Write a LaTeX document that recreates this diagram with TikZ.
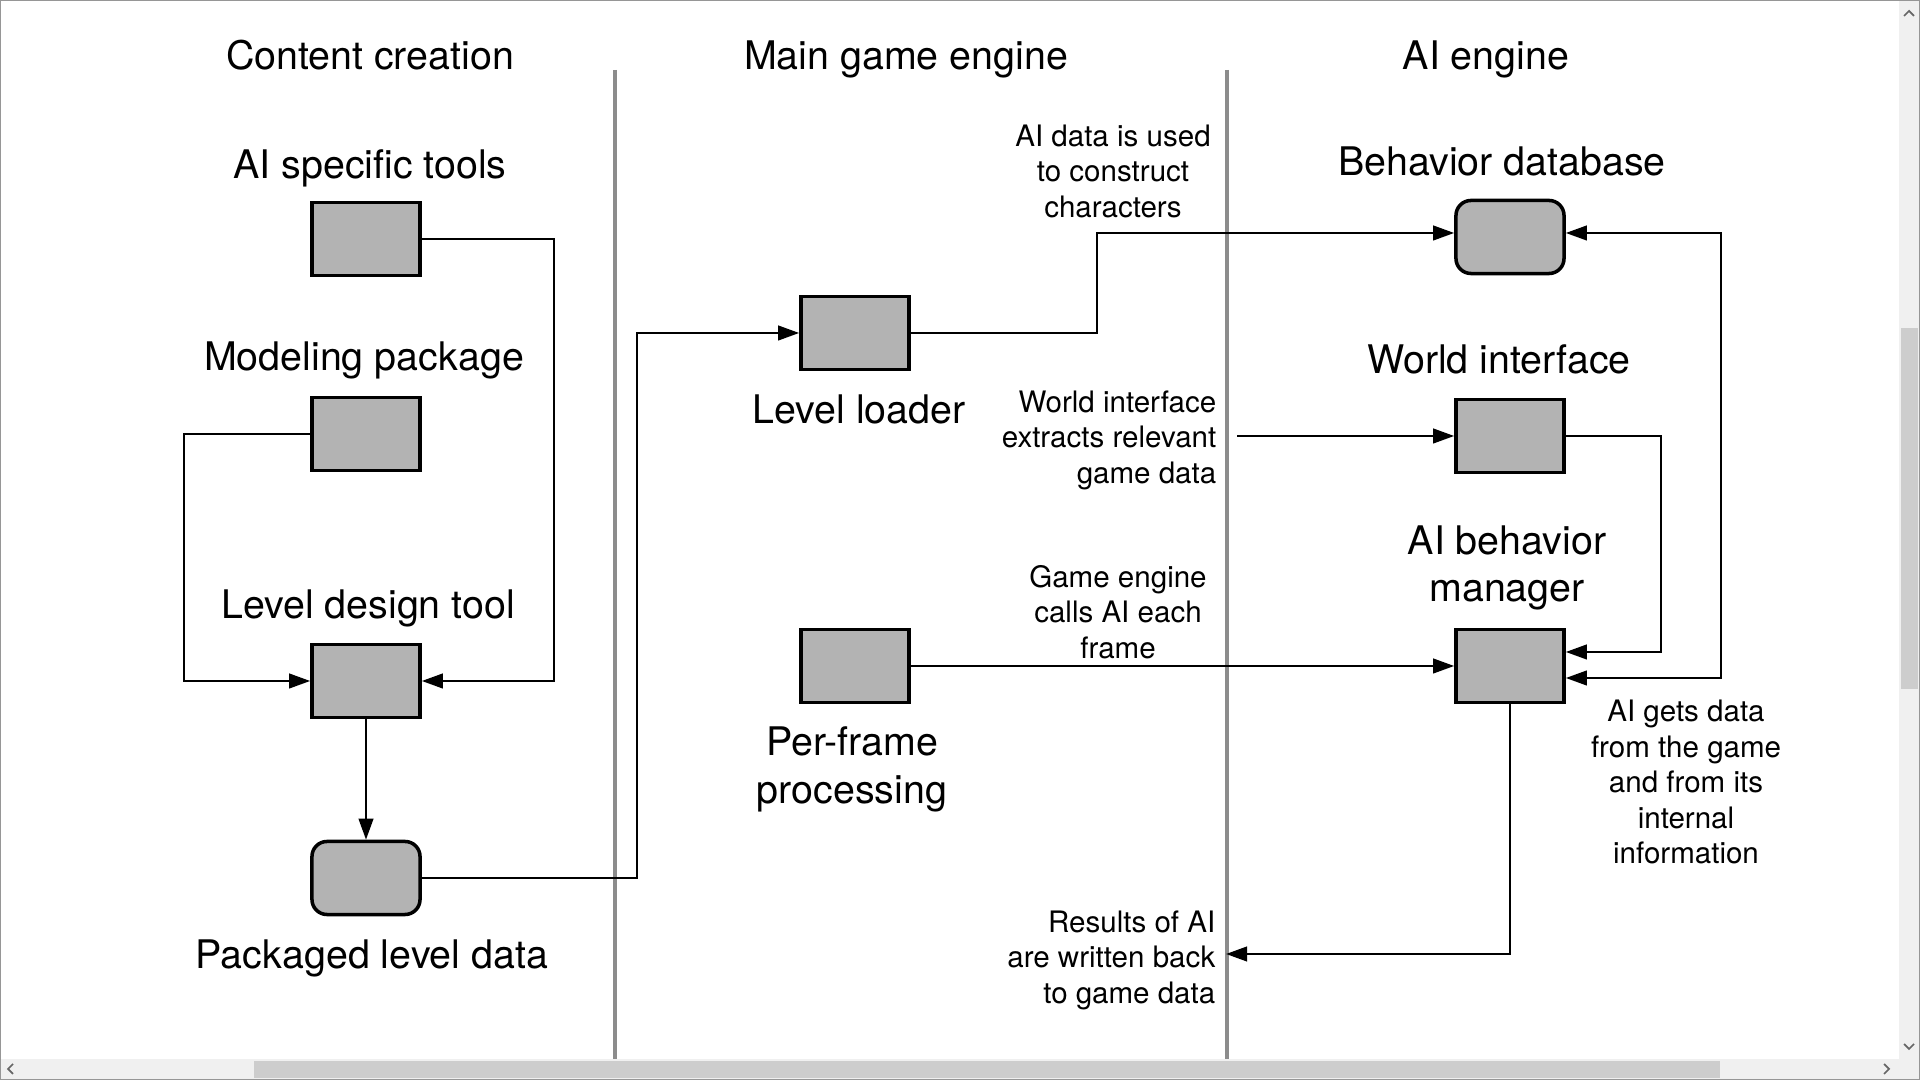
\documentclass[tikz,border=0pt]{standalone}
\usepackage{fontspec}
\setmainfont{TeX Gyre Heros}
\usepackage{tikz}
\usepackage{xcolor}
\usetikzlibrary{arrows.meta}
\definecolor{boxgray}{RGB}{179,179,179}
\definecolor{rulegray}{RGB}{140,140,140}
\definecolor{trackgray}{RGB}{240,240,240}
\definecolor{thumbgray}{RGB}{205,205,205}
\definecolor{framegray}{RGB}{150,150,150}

\begin{document}
\begin{tikzpicture}[x=0.01cm,y=-0.01cm,
  blk/.style={draw,line width=1pt,fill=boxgray,minimum width=1.08cm,
              minimum height=0.73cm,inner sep=0pt},
  rblk/.style={blk,rounded corners=1.5mm},
  lbl/.style={font=\fontsize{11.2}{13.6}\selectfont,align=center,inner sep=0pt},
  note/.style={font=\fontsize{8.4}{10.1}\selectfont,inner sep=0pt},
  flow/.style={line width=0.7pt,-{Triangle[length=2.1mm,width=1.45mm]}},
  both/.style={line width=0.7pt,{Triangle[length=2.1mm,width=1.45mm]}-{Triangle[length=2.1mm,width=1.45mm]}},
  divider/.style={rulegray,line width=0.9pt}]
\useasboundingbox (0,0) rectangle (1920,1080);

% ------------- columns -------------
\draw[divider] (615,70) -- (615,1059);
\draw[divider] (1227,70) -- (1227,1059);
\node[lbl] (hContent) at (370,55) {Content creation};
\node[lbl] (hMain) at (906,59) {Main game engine};
\node[lbl] (hAI) at (1486,59) {AI engine};

% ------------- content creation -------------
\node[blk] (tools) at (366,239) {};
\node[blk] (model) at (366,434) {};
\node[blk] (design) at (366,681) {};
\node[rblk] (packed) at (366,878) {};
\node[lbl] at (370,168) {AI specific tools};
\node[lbl] at (364,360) {Modeling package};
\node[lbl] at (368,608) {Level design tool};
\node[lbl] at (372,958) {Packaged level data};

\draw[flow] (tools.east) -- ++(132,0) |- (design.east);
\draw[flow] (model.west) -- ++(-126,0) |- (design.west);
\draw[flow] (design) -- (packed);

% ------------- main game engine -------------
\node[blk] (loader) at (855,333) {};
\node[blk] (frame) at (855,666) {};
\node[lbl] at (859,409) {Level loader};
\node[lbl] at (852,769) {Per-frame\\processing};

\draw[flow] (packed.east) -- ++(215,0) |- (loader.west);

\node[note,align=center] (useTxt) at (1113,171)
  {AI data is used\\to construct\\characters};
\node[note,align=right,anchor=east] (wiTxt) at (1217,440)
  {World interface\\extracts relevant\\game data};
\node[note,align=center] (callTxt) at (1118,612)
  {Game engine\\calls AI each\\frame};
\node[note,align=right,anchor=east] (resTxt) at (1216,960)
  {Results of AI\\are written back\\to game data};

% ------------- AI engine -------------
\node[rblk] (behdb) at (1510,237) {};
\node[blk] (world) at (1510,436) {};
\node[blk] (mgr) at (1510,666) {};
\node[lbl] at (1502,161) {Behavior database};
\node[lbl] at (1499,359) {World interface};
\node[lbl] at (1507,568) {AI behavior\\manager};
\node[note,align=center] (getTxt) at (1686,782)
  {AI gets data\\from the game\\and from its\\internal\\information};

\coordinate (resEnd) at (1226,954);
\draw[flow] (loader.east) -- ++(186,0) |- ([yshift=0.04cm]behdb.west);
\draw[flow,shorten <=0.2cm] (wiTxt.east |- world.west) -- (world.west);
\draw[flow] (frame.east) -- (mgr.west);
\draw[flow] (world.east) -- ++(95,0) |- ([yshift=0.14cm]mgr.east);
\draw[both] ([yshift=0.04cm]behdb.east) -- ++(155,0) |- ([yshift=-0.12cm]mgr.east);
\draw[flow] (mgr.south) |- (resEnd);

% ------------- window chrome -------------
\fill[trackgray] (1899,0) rectangle (1920,1080);
\fill[trackgray] (0,1059) rectangle (1920,1080);
\fill[thumbgray] (1901,328) rectangle (1918,689);
\fill[thumbgray] (254,1061) rectangle (1720,1078);
\draw[gray!80!black,line width=0.5pt] (1904,16) -- (1909,11) -- (1914,16);
\draw[gray!80!black,line width=0.5pt] (1904,1044) -- (1909,1049) -- (1914,1044);
\draw[gray!80!black,line width=0.5pt] (13,1064) -- (8,1069) -- (13,1074);
\draw[gray!80!black,line width=0.5pt] (1884,1064) -- (1889,1069) -- (1884,1074);
\draw[framegray,line width=0.8pt] (0,0) rectangle (1920,1080);
\end{tikzpicture}
\end{document}
